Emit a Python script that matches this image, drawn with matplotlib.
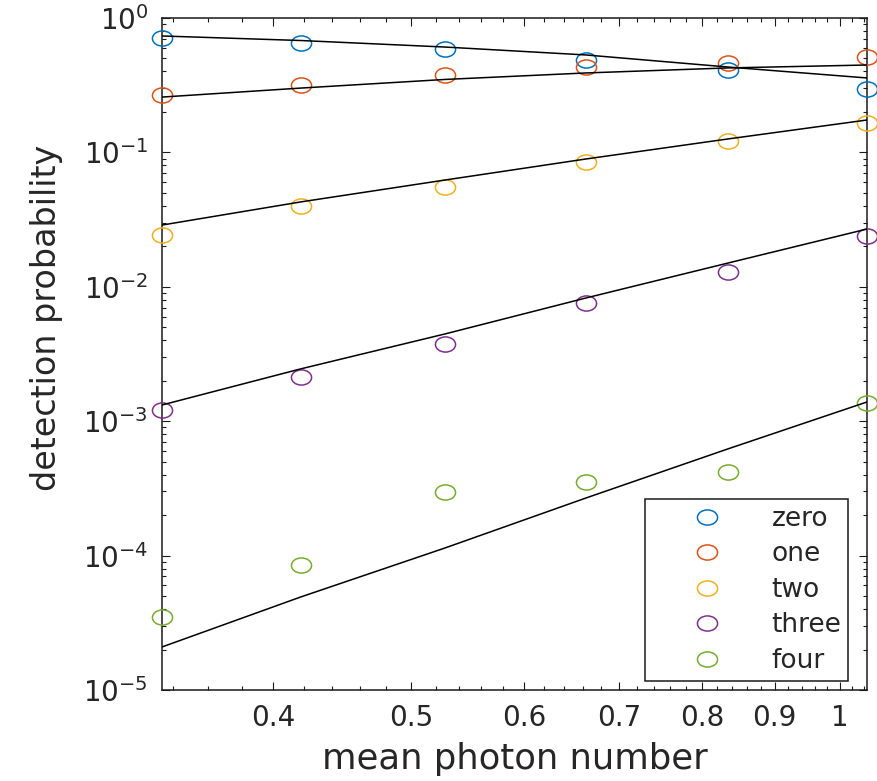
import numpy as np
import matplotlib
matplotlib.use("Agg")
import matplotlib.pyplot as plt
from matplotlib.path import Path
from matplotlib.ticker import FixedLocator, FuncFormatter, NullFormatter, LogLocator

# ---- data ----
mean_photon = [0.334, 0.418, 0.528, 0.663, 0.834, 1.045]

zero  = [0.710, 0.652, 0.588, 0.487, 0.410, 0.296]
one   = [0.267, 0.317, 0.377, 0.432, 0.462, 0.513]
two   = [0.0243, 0.0399, 0.0553, 0.0848, 0.1216, 0.1655]
three = [0.00121, 0.00213, 0.00375, 0.00758, 0.01289, 0.0239]
four  = [3.49e-5, 8.51e-5, 2.97e-4, 3.53e-4, 4.19e-4, 1.366e-3]

fit_zero  = [0.735, 0.680, 0.608, 0.531, 0.432, 0.358]
fit_one   = [0.258, 0.301, 0.349, 0.390, 0.425, 0.447]
fit_two   = [0.0288, 0.0428, 0.0623, 0.0893, 0.1258, 0.1742]
fit_three = [0.00132, 0.00245, 0.00446, 0.00825, 0.0150, 0.0269]
fit_four  = [2.09e-5, 4.92e-5, 1.14e-4, 2.68e-4, 6.21e-4, 1.39e-3]

labels = ["zero", "one", "two", "three", "four"]
colors = ["#0072BD", "#D95319", "#EDB120", "#7E2F8E", "#77AC30"]
x_major = [0.4, 0.5, 0.6, 0.7, 0.8, 0.9, 1.0]
x_minor = [0.34, 0.36, 0.38, 0.42, 0.44, 0.46, 0.48, 0.52, 0.54, 0.56, 0.58,
           0.62, 0.64, 0.66, 0.68, 0.72, 0.74, 0.76, 0.78, 0.82, 0.84, 0.86,
           0.88, 0.92, 0.94, 0.96, 0.98, 1.02, 1.04]

plt.rcParams['font.family'] = ['DejaVu Sans']
plt.rcParams['mathtext.fontset'] = 'dejavusans'
plt.rcParams['axes.unicode_minus'] = False

W, H = 877, 781
fig = plt.figure(figsize=(W / 100, H / 100), dpi=100)
ax = fig.add_axes([162 / W, 91 / H, 705 / W, 672 / H])

# horizontally stretched circle (reference image is stretched)
uc = Path.unit_circle()
ell = Path(uc.vertices * np.array([1.33, 1.0]), uc.codes)

series = [zero, one, two, three, four]
fits = [fit_zero, fit_one, fit_two, fit_three, fit_four]
for s, lab, c in zip(series, labels, colors):
    ax.plot(mean_photon, s, linestyle='none', marker=ell, markersize=14.5,
            markerfacecolor='none', markeredgecolor=c, markeredgewidth=1.1,
            label=lab, clip_on=False, zorder=3)
for f in fits:
    ax.plot(mean_photon, f, color='black', linewidth=1.1, zorder=4)

ax.set_xscale('log')
ax.set_yscale('log')
ax.set_xlim(mean_photon[0], mean_photon[-1])
ax.set_ylim(1e-5, 1)

ax.xaxis.set_major_locator(FixedLocator(x_major))
ax.xaxis.set_major_formatter(FuncFormatter(lambda v, p: f"{v:g}"))
ax.xaxis.set_minor_locator(FixedLocator(x_minor))
ax.xaxis.set_minor_formatter(NullFormatter())
ax.yaxis.set_major_locator(LogLocator(base=10, numticks=10))
ax.yaxis.set_minor_locator(LogLocator(base=10, subs=np.arange(2, 10), numticks=20))
ax.yaxis.set_minor_formatter(NullFormatter())

tc = '#262626'
ax.tick_params(which='both', direction='in', top=True, right=True,
               colors='#1a1a1a', labelcolor=tc, labelsize=20, width=0.8)
ax.tick_params(axis='x', which='major', length=5.5, pad=10)
ax.tick_params(axis='y', which='major', length=5.5, pad=10)
ax.tick_params(which='minor', length=3)
for sp in ax.spines.values():
    sp.set_linewidth(1.1)
    sp.set_color('#1a1a1a')

ax.set_xlabel("mean photon number", fontsize=25.5, color=tc)
ax.set_ylabel("detection probability", fontsize=24, color=tc)
ax.xaxis.set_label_coords(0.5, -0.077)
ax.yaxis.set_label_coords(-0.14, 0.5536)

leg = ax.legend(loc='lower right', bbox_to_anchor=(0.973, 0.014), borderaxespad=0,
                fontsize=19, frameon=True, fancybox=False, framealpha=1,
                edgecolor='#1a1a1a', borderpad=0.25, handlelength=4.2,
                handletextpad=0.35, labelspacing=0.36)
leg.get_frame().set_linewidth(1.1)
for t in leg.get_texts():
    t.set_color(tc)

fig.savefig("out.png", dpi=100)
